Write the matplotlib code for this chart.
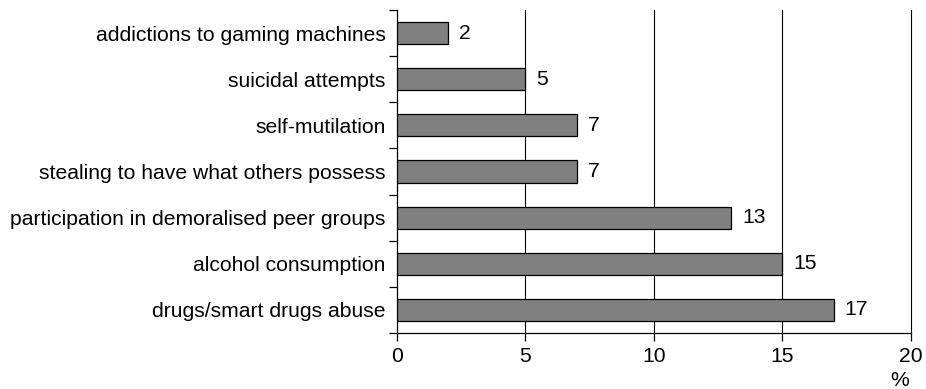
import matplotlib
matplotlib.use("Agg")
import matplotlib.pyplot as plt
import numpy as np

plt.rcParams['font.family'] = ['Liberation Sans', 'DejaVu Sans']

categories = ["addictions to gaming machines", "suicidal attempts", "self-mutilation",
              "stealing to have what others possess", "participation in demoralised peer groups",
              "alcohol consumption", "drugs/smart drugs abuse"]
values = [2, 5, 7, 7, 13, 15, 17]
xticks = [0, 5, 10, 15, 20]

fs = 15.2
fig = plt.figure(figsize=(9.26, 3.89), dpi=100)
ax = fig.add_axes([0.4287, 0.144, 0.5551, 0.830])

n = len(categories)
ypos = np.arange(n)
ax.barh(ypos, values, height=0.48, color='#808080', edgecolor='black', linewidth=0.9, zorder=3)
for y, v in zip(ypos, values):
    ax.text(v + 0.42, y, str(v), va='center', ha='left', fontsize=fs)

ax.set_ylim(n - 0.5, -0.5)
ax.set_xlim(0, 20)
ax.set_xticks(xticks)
ax.set_xticklabels([str(t) for t in xticks], fontsize=fs)
ax.set_yticks(ypos)
ax.set_yticklabels(categories, fontsize=fs)
ax.tick_params(axis='y', which='major', length=0, pad=8)
ax.set_yticks(np.arange(-0.5, n, 1), minor=True)
ax.tick_params(axis='y', which='minor', length=6, width=0.9, direction='out')
ax.tick_params(axis='x', length=6, width=0.9, direction='out', pad=4)
for g in xticks[1:]:
    ax.axvline(g, color='black', linewidth=0.8, zorder=1, clip_on=False)

for s in ['top', 'right']:
    ax.spines[s].set_visible(False)
ax.spines['left'].set_linewidth(0.9)
ax.spines['bottom'].set_linewidth(0.9)

fig.text(900/926, 1 - 380/389, '%', ha='center', va='center', fontsize=fs)

fig.savefig('out.png', dpi=100)
